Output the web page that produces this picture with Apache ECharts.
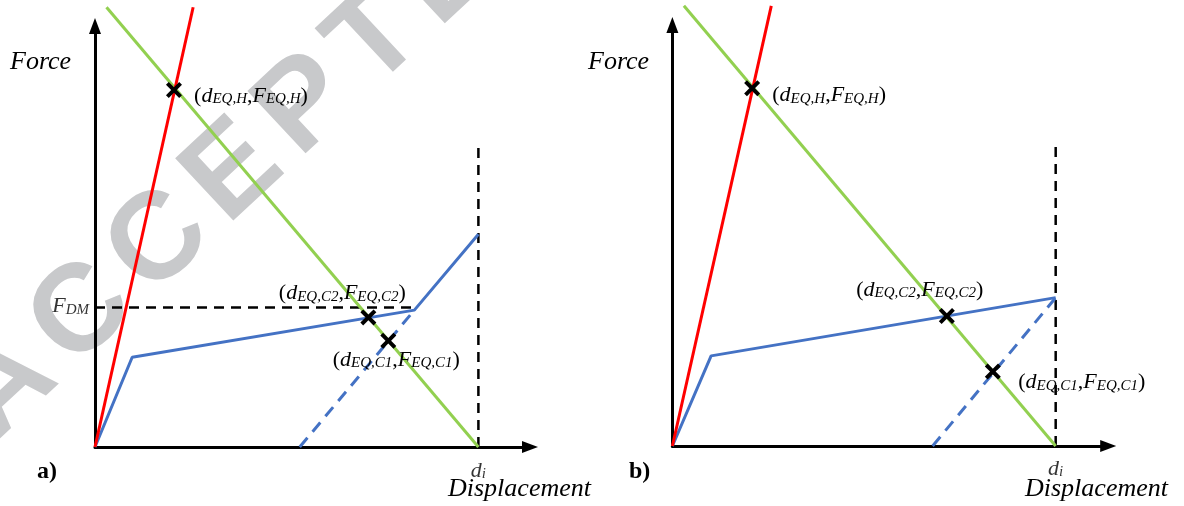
<!DOCTYPE html>
<html>
<head>
<meta charset="utf-8">
<script src="https://cdn.jsdelivr.net/npm/echarts@6/dist/echarts.min.js"></script>
<style>
html,body{margin:0;padding:0;background:#fff;}
#chart{width:1184px;height:506px;}
</style>
</head>
<body>
<div id="chart"></div>
<script>
// ---------- data (displacement units: d_i = 100) ----------
// panel a
const redA      = [[0, 0], [25.6, 114.7]];
const greenA    = [[3.0, 114.7], [100, 0]];
const blueA     = [[0, 0], [9.7, 23.4], [83.3, 35.7], [100, 55.5]];
const blueDashA = [[53.4, 0], [83.3, 35.7]];
const fdmLineA  = [[0, 36.4], [83.5, 36.4]];
const diLineA   = [[100, 0], [100, 78.8]];
const crossA    = [[20.6, 93.1], [71.3, 33.8], [76.5, 27.7]];
// panel b
const redB      = [[0, 0], [25.8, 114.8]];
const greenB    = [[3.0, 114.8], [100, 0]];
const blueB     = [[0, 0], [10.1, 23.5], [100, 38.7]];
const blueDashB = [[67.9, 0], [100, 38.7]];
const diLineB   = [[100, 0], [100, 79.0]];
const crossB    = [[20.8, 93.3], [71.6, 33.9], [83.6, 19.4]];
// label anchors
const fdmPointA = [[0, 36.4]];
const diPointA  = [[100, 0]];
const diPointB  = [[100, 0]];
// texts
const pointNames = [['EQ,H', 'EQ,H'], ['EQ,C2', 'EQ,C2'], ['EQ,C1', 'EQ,C1']];
const yName = 'Force';
const xName = 'Displacement';
const panelNames = ['a)', 'b)'];
const watermarkLetters = ['A', 'C', 'C', 'E', 'P', 'T', 'E', 'D'];

// ---------- styling ----------
const SERIF = '"Liberation Serif", "DejaVu Serif", serif';
const RED = '#ff0000', GREEN = '#92d050', BLUE = '#4472c4', BLACK = '#000000';
const rich = {
  p: {fontFamily: SERIF, fontSize: 22, color: BLACK, lineHeight: 28, verticalAlign: 'bottom'},
  i: {fontFamily: SERIF, fontSize: 22, fontStyle: 'italic', color: BLACK, lineHeight: 28, verticalAlign: 'bottom'},
  s: {fontFamily: SERIF, fontSize: 15, fontStyle: 'italic', color: BLACK, lineHeight: 16, verticalAlign: 'bottom'}
};
function pointLabel(n) {
  return '{p|(}{i|d}{s|' + n[0] + '}{p|,}{i|F}{s|' + n[1] + '}{p|)}';
}
const CROSS = 'path://M0,3.5 L3.5,0 L10,6.5 L16.5,0 L20,3.5 L13.5,10 L20,16.5 L16.5,20 L10,13.5 L3.5,20 L0,16.5 L6.5,10 Z';

// ---------- watermark layout (decoration) ----------
function watermarkGraphics() {
  const adv = {A: 0.722, C: 0.722, E: 0.667, P: 0.667, T: 0.611, D: 0.722};
  const em = 124, extra = 16, ang = 43 * Math.PI / 180;
  const ux = Math.cos(ang), uy = -Math.sin(ang);
  let cx = 82 - 105 * ux, cy = 315 - 105 * uy;   // centre of first letter
  const out = [];
  watermarkLetters.forEach(function (ch, k) {
    if (k > 0) {
      const step = (adv[watermarkLetters[k - 1]] / 2 + adv[ch] / 2) * em + extra;
      cx += step * ux; cy += step * uy;
    }
    out.push({type: 'text', x: cx, y: cy, rotation: ang, z: -10, silent: true,
      style: {text: ch, fill: '#c8c9cb', font: 'bold ' + em + 'px "Liberation Sans", Arial, sans-serif',
        textAlign: 'center', textVerticalAlign: 'middle'}});
  });
  return out;
}

function axis(gridIndex, max) {
  return {
    type: 'value', gridIndex: gridIndex, min: 0, max: max,
    axisLine: {show: true, onZero: false, symbol: ['none', 'triangle'], symbolSize: [12, 16],
      lineStyle: {color: BLACK, width: 3}},
    axisTick: {show: false}, axisLabel: {show: false}, splitLine: {show: false}
  };
}
function line(g, data, color, type, width) {
  return {
    type: 'line', xAxisIndex: g, yAxisIndex: g, data: data, symbol: 'none', clip: false,
    silent: true, animation: false, z: 3,
    lineStyle: {color: color, width: width || 3, type: type || 'solid'}
  };
}
function crosses(g, data, offsets) {
  return {
    type: 'scatter', xAxisIndex: g, yAxisIndex: g, symbol: CROSS, symbolSize: 16, z: 5,
    animation: false, clip: false,
    itemStyle: {color: BLACK, opacity: 1},
    data: data.map(function (p, k) {
      return {value: p, label: {show: true, position: 'inside', offset: offsets[k],
        align: 'center', verticalAlign: 'middle',
        formatter: pointLabel(pointNames[k]), rich: rich}};
    })
  };
}
function textPoint(g, data, fmt, offset, align) {
  return {
    type: 'scatter', xAxisIndex: g, yAxisIndex: g, symbolSize: 1, z: 5, animation: false, clip: false,
    itemStyle: {color: 'rgba(0,0,0,0)'},
    label: {show: true, position: 'inside', offset: offset, align: align || 'center',
      verticalAlign: 'middle', formatter: fmt, rich: rich},
    data: data
  };
}

const option = {
  backgroundColor: '#ffffff',
  animation: false,
  grid: [
    {left: 95, top: 26, width: 435, height: 421},
    {left: 672.4, top: 25, width: 435.8, height: 421}
  ],
  xAxis: [axis(0, 113.46), axis(1, 113.7)],
  yAxis: [axis(0, 109.8), axis(1, 109.8)],
  graphic: watermarkGraphics().concat([
    {type: 'text', left: 10, top: 49, z: 10,
      style: {text: yName, fill: BLACK, font: 'italic 26px ' + SERIF}},
    {type: 'text', left: 588, top: 49, z: 10,
      style: {text: yName, fill: BLACK, font: 'italic 26px ' + SERIF}},
    {type: 'text', left: 448, top: 476, z: 10,
      style: {text: xName, fill: BLACK, font: 'italic 26px ' + SERIF}},
    {type: 'text', left: 1025, top: 476, z: 10,
      style: {text: xName, fill: BLACK, font: 'italic 26px ' + SERIF}},
    {type: 'text', left: 37, top: 460, z: 10,
      style: {text: panelNames[0], fill: BLACK, font: 'bold 24px ' + SERIF}},
    {type: 'text', left: 629, top: 460, z: 10,
      style: {text: panelNames[1], fill: BLACK, font: 'bold 24px ' + SERIF}}
  ]),
  series: [
    // panel a
    line(0, diLineA, BLACK, [10, 7], 2.5),
    line(0, fdmLineA, BLACK, [10, 7], 2.5),
    line(0, blueDashA, BLUE, [12, 8], 3),
    line(0, blueA, BLUE),
    line(0, greenA, GREEN),
    line(0, redA, RED),
    crosses(0, crossA, [[77, 3], [-26, -27], [8, 16]]),
    textPoint(0, fdmPointA, '{i|F}{s|DM}', [-6, -4], 'right'),
    textPoint(0, diPointA, '{i|d}{s|i}', [0, 21]),
    // panel b
    line(1, diLineB, BLACK, [10, 7], 2.5),
    line(1, blueDashB, BLUE, [12, 8], 3),
    line(1, blueB, BLUE),
    line(1, greenB, GREEN),
    line(1, redB, RED),
    crosses(1, crossB, [[77, 4], [-27, -29], [89, 8]]),
    textPoint(1, diPointB, '{i|d}{s|i}', [0, 20])
  ]
};
const chart = echarts.init(document.getElementById('chart'), null, {renderer: 'canvas'});
chart.setOption(option);
</script>
</body>
</html>
